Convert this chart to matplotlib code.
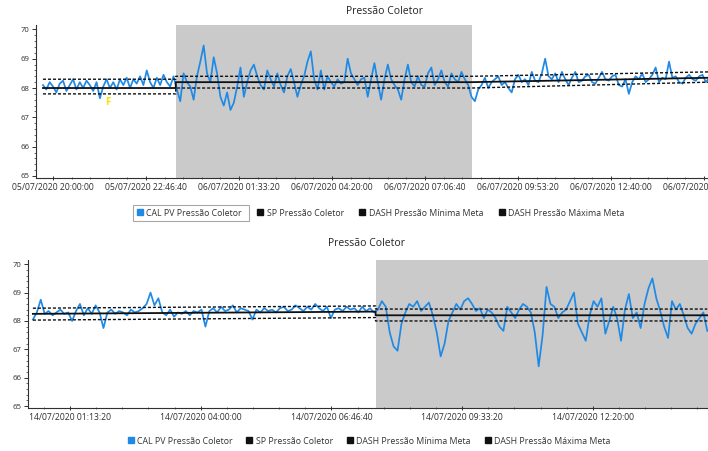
import matplotlib
matplotlib.use("Agg")
import matplotlib.pyplot as plt
import matplotlib.dates as mdates
from matplotlib.lines import Line2D
from matplotlib.patches import Rectangle
from matplotlib.ticker import MultipleLocator, FixedLocator
import pandas as pd

plt.rcParams['font.family'] = ['Open Sans', 'DejaVu Sans']

TITLE = "Pressão Coletor"
LEGEND_LABELS = ["CAL PV Pressão Coletor", "SP Pressão Coletor",
                 "DASH Pressão Mínima Meta", "DASH Pressão Máxima Meta"]

# --- chart 1 : 05/07/2020 -> 06/07/2020, one point every 6 min
pv1_start = "2020-07-05 19:42"
pv1_step = "6min"
pv1 = [
    68.1, 67.95, 68.2, 68.05, 67.85, 68.15, 68.25, 67.9, 68.1, 68.3,
    67.95, 68.2, 68.0, 68.25, 68.1, 67.9, 68.2, 67.65, 68.05, 68.3,
    68.0, 68.2, 67.95, 68.3, 68.1, 68.35, 68.0, 68.3, 68.15, 68.4,
    68.1, 68.6, 68.2, 68.0, 68.35, 68.1, 68.45, 68.2, 68.05, 68.4,
    67.95, 67.55, 68.5, 68.2, 68.05, 67.6, 68.4, 68.9, 69.45, 68.5,
    68.2, 69.05, 68.5, 67.7, 67.4, 67.85, 67.25, 67.5, 68.05, 68.7,
    67.7, 68.2, 68.6, 68.8, 68.4, 68.1, 67.95, 68.6, 68.3, 68.05,
    68.5, 68.1, 67.85, 68.4, 68.65, 68.2, 67.7, 68.1, 68.4, 68.9,
    69.25, 68.3, 67.95, 68.6, 67.95, 68.4, 68.2, 68.05, 68.3, 68.15,
    68.2, 69.0, 68.5, 68.3, 68.1, 68.3, 68.35, 67.7, 68.3, 68.85,
    68.2, 67.6, 68.3, 68.8, 68.3, 68.1, 67.95, 67.6, 68.3, 68.8,
    68.2, 68.05, 68.4, 68.1, 68.05, 68.5, 68.7, 68.1, 68.3, 68.6,
    68.2, 68.05, 68.5, 68.3, 68.2, 68.55, 68.3, 68.1, 67.7, 67.55,
    67.95, 68.1, 68.35, 68.0, 68.2, 68.3, 68.4, 68.1, 68.2, 68.0,
    67.85, 68.3, 68.45, 68.2, 68.3, 68.1, 68.55, 68.25, 68.2, 68.5,
    69.0, 68.4, 68.3, 68.5, 68.2, 68.55, 68.3, 68.1, 68.35, 68.55,
    68.2, 68.25, 68.4, 68.45, 68.2, 68.15, 68.35, 68.55, 68.3, 68.25,
    68.4, 68.45, 68.1, 68.05, 68.3, 67.8, 68.2, 68.4, 68.3, 68.5,
    68.2, 68.3, 68.45, 68.7, 68.2, 68.35, 68.3, 68.9, 68.35, 68.4,
    68.2, 68.15, 68.35, 68.45, 68.3, 68.25, 68.4, 68.45, 68.2, 68.35,
]
sp1_times = ["2020-07-05 19:42", "2020-07-05 23:40", "2020-07-05 23:40",
             "2020-07-06 08:30", "2020-07-06 15:36"]
sp1 = [68.0, 68.0, 68.2, 68.2, 68.35]
min1 = [67.8, 67.8, 68.0, 68.0, 68.2]
max1 = [68.3, 68.3, 68.4, 68.4, 68.55]
shade1 = ("2020-07-05 23:40", "2020-07-06 08:30")
ticks1_start = "2020-07-05 20:00:00"
xlim1 = ("2020-07-05 19:29:30", "2020-07-06 15:33:50")
mark1 = ("2020-07-05 21:38", 67.5)

# --- chart 2 : 14/07/2020, one point every 5 min
pv2_start = "2020-07-14 00:26"
pv2_step = "5min"
pv2 = [
    68.05, 68.3, 68.75, 68.25, 68.35, 68.2, 68.3, 68.4, 68.25, 68.3,
    68.0, 68.35, 68.6, 68.2, 68.45, 68.25, 68.55, 68.3, 67.75, 68.3,
    68.4, 68.25, 68.35, 68.3, 68.2, 68.4, 68.3, 68.35, 68.45, 68.6,
    69.0, 68.55, 68.8, 68.3, 68.2, 68.4, 68.15, 68.3, 68.25, 68.35,
    68.2, 68.35, 68.3, 68.4, 67.8, 68.35, 68.45, 68.3, 68.5, 68.35,
    68.4, 68.55, 68.3, 68.45, 68.4, 68.35, 68.05, 68.4, 68.3, 68.45,
    68.35, 68.4, 68.3, 68.45, 68.5, 68.35, 68.4, 68.55, 68.45, 68.35,
    68.5, 68.4, 68.6, 68.45, 68.35, 68.5, 68.1, 68.4, 68.45, 68.35,
    68.5, 68.4, 68.45, 68.3, 68.5, 68.35, 68.45, 68.3,
    68.4, 68.7, 68.5, 67.6, 67.1, 66.95, 67.9, 68.3, 68.6, 68.5,
    68.7, 68.35, 68.5, 68.65, 68.2, 67.6, 66.75, 67.2, 68.0, 68.3,
    68.6, 68.4, 68.7, 68.8, 68.6, 68.35, 68.45, 68.1, 68.4, 68.3,
    68.1, 67.8, 67.65, 68.5, 68.3, 68.1, 68.4, 68.6, 68.5, 68.3,
    67.6, 66.4, 67.5, 69.2, 68.6, 68.5, 68.1, 68.3, 68.4, 68.7,
    69.0, 67.9, 67.6, 67.3, 68.2, 68.7, 68.5, 68.8, 67.55, 68.0,
    68.5, 68.1, 67.3, 68.4, 68.95, 68.1, 68.3, 67.75, 68.6, 69.15,
    69.5, 68.8, 68.35, 67.8, 67.4, 68.7, 68.4, 68.6, 68.2, 67.75,
    67.55, 67.9, 68.1, 68.3, 67.65,
]
sp2_times = ["2020-07-14 00:26", "2020-07-14 07:43", "2020-07-14 07:43",
             "2020-07-14 14:46"]
sp2 = [68.25, 68.33, 68.2, 68.2]
min2 = [68.03, 68.12, 68.0, 68.0]
max2 = [68.45, 68.53, 68.42, 68.42]
shade2 = ("2020-07-14 07:43", "2020-07-14 14:50")
ticks2_start = "2020-07-14 01:13:20"
xlim2 = ("2020-07-14 00:19:45", "2020-07-14 14:46:55")

BLUE = "#1f8ae6"
DASH = (0, (2.2, 1.4))


def draw_panel(ax, pv, pv_start, pv_step, sp_t, sp, lo, hi, shade, tick0, xlim):
    t = pd.date_range(pv_start, periods=len(pv), freq=pv_step)
    st = pd.to_datetime(sp_t)
    ax.axvspan(pd.Timestamp(shade[0]), pd.Timestamp(shade[1]),
               color="#cacaca", lw=0, zorder=0)
    ax.plot(t, pv, color=BLUE, lw=1.25, zorder=2)
    ax.plot(st, sp, color="#101010", lw=1.3, zorder=3)
    ax.plot(st, lo, color="#101010", lw=1.0, ls=DASH, zorder=3)
    ax.plot(st, hi, color="#101010", lw=1.0, ls=DASH, zorder=3)

    ax.set_ylim(64.93, 70.15)
    ax.yaxis.set_major_locator(MultipleLocator(1))
    ax.yaxis.set_minor_locator(MultipleLocator(0.2))
    majors = pd.date_range(tick0, periods=8, freq="10000s")
    minors = pd.date_range(pd.Timestamp(tick0) - pd.Timedelta("10000s"),
                           periods=50, freq="2000s")
    ax.xaxis.set_major_locator(FixedLocator(mdates.date2num(majors)))
    ax.xaxis.set_minor_locator(FixedLocator(mdates.date2num(minors)))
    ax.xaxis.set_major_formatter(mdates.DateFormatter("%d/%m/%Y %H:%M:%S"))
    ax.set_xlim(pd.Timestamp(xlim[0]), pd.Timestamp(xlim[1]))

    for s in ("top", "right"):
        ax.spines[s].set_visible(False)
    for s in ("left", "bottom"):
        ax.spines[s].set_color("#303030")
        ax.spines[s].set_linewidth(0.8)
    ax.tick_params(axis="x", which="major", labelsize=6.2, colors="#303030",
                   length=3, width=0.7, pad=2)
    ax.tick_params(axis="y", which="major", labelsize=5.6, colors="#303030",
                   length=3, width=0.7, pad=2)
    ax.tick_params(axis="both", which="minor", length=1.8, width=0.5, colors="#303030")
    ax.tick_params(axis="x", which="both", direction="inout")


fig = plt.figure(figsize=(7.08, 4.51), dpi=100)
W, H = 708, 451

ax1 = fig.add_axes([36 / W, 1 - 178 / H, 672 / W, 153 / H])
draw_panel(ax1, pv1, pv1_start, pv1_step, sp1_times, sp1, min1, max1,
           shade1, ticks1_start, xlim1)
ax1.text(pd.Timestamp(mark1[0]), mark1[1], "F", color="#f3e500",
         fontsize=7, fontweight="bold", ha="center", va="center", zorder=4)

ax2 = fig.add_axes([28 / W, 1 - 408 / H, 680 / W, 148 / H])
draw_panel(ax2, pv2, pv2_start, pv2_step, sp2_times, sp2, min2, max2,
           shade2, ticks2_start, xlim2)

fig.text(385 / W, 1 - 12 / H, TITLE, fontsize=7.5, ha="center", va="center", color="#222")
fig.text(367 / W, 1 - 243 / H, TITLE, fontsize=7.5, ha="center", va="center", color="#222")

handles = [Line2D([], [], ls="none", marker="s", markersize=4.4,
                  color=c) for c in (BLUE, "#101010", "#101010", "#101010")]
for x0, y0, gap in ((137, 213, 1.8), (128, 441, 1.6)):
    fig.legend(handles, LEGEND_LABELS, loc="center left",
               bbox_to_anchor=(x0 / W, 1 - y0 / H), ncol=4, frameon=False,
               fontsize=6.3, handlelength=0.6, handletextpad=0.45,
               columnspacing=gap, borderpad=0, borderaxespad=0,
               labelcolor="#333")

fig.add_artist(Rectangle((133 / W, 1 - 221 / H), 116 / W, 16 / H,
                         transform=fig.transFigure, fill=False,
                         edgecolor="#a8a8a8", lw=0.8))

fig.savefig("out.png", dpi=100)
